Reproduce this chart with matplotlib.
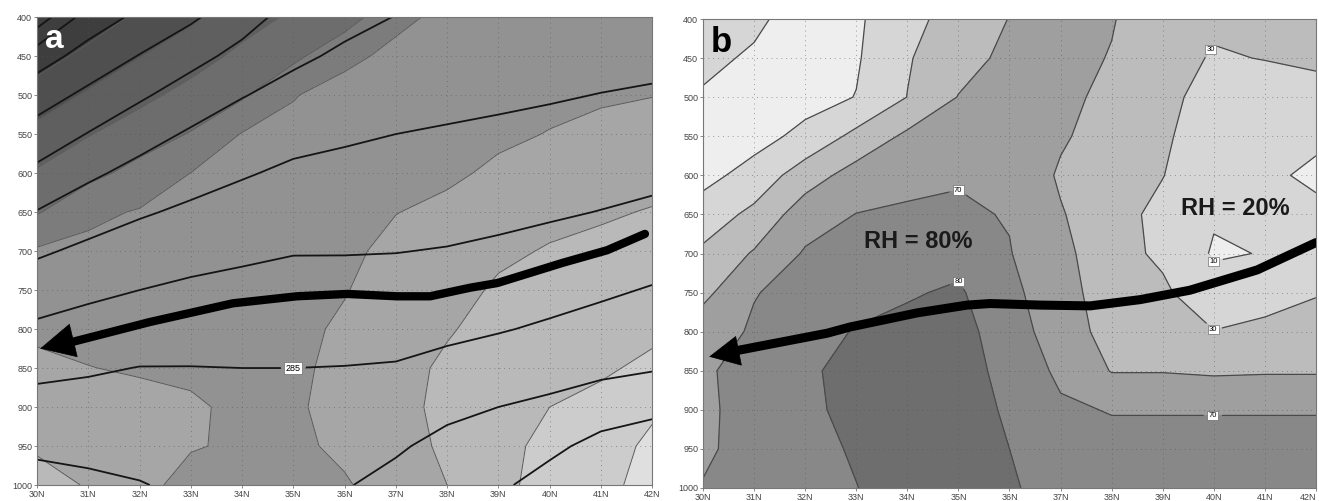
import numpy as np
import matplotlib
matplotlib.use("Agg")
import matplotlib.pyplot as plt

plt.rcParams["font.family"] = ["Liberation Sans", "DejaVu Sans"]

lats = np.arange(30, 43)
levs = np.arange(400, 1001, 50)
lat_labels = [f"{v}N" for v in lats]

# panel a: potential temperature (K); one row per latitude 30..42N, values 400 -> 1000 hPa
theta_a = [
    [328.0, 317.1, 312.3, 308.0, 303.9, 299.8, 295.7, 292.3, 289.2, 286.1, 283.4, 280.8, 278.5],
    [317.5, 313.2, 308.9, 304.8, 300.9, 297.3, 294.0, 291.0, 288.2, 285.5, 283.3, 281.2, 279.1],
    [314.0, 309.8, 305.7, 301.9, 298.5, 295.5, 292.7, 290.0, 287.4, 284.9, 283.2, 281.5, 279.8],
    [310.8, 306.5, 302.8, 299.4, 296.8, 294.2, 291.6, 289.2, 287.1, 284.9, 283.6, 282.2, 280.8],
    [306.9, 303.6, 300.2, 297.8, 295.4, 293.1, 290.8, 288.8, 286.9, 285.0, 283.7, 282.3, 281.0],
    [303.2, 300.8, 298.6, 296.4, 294.2, 292.2, 290.2, 288.5, 286.8, 285.0, 283.6, 282.2, 280.8],
    [301.2, 299.3, 297.5, 295.6, 293.8, 292.0, 290.2, 288.4, 286.7, 284.9, 283.4, 281.8, 280.3],
    [299.9, 298.3, 296.7, 295.0, 293.4, 291.8, 290.1, 288.3, 286.5, 284.7, 282.7, 280.6, 278.6],
    [299.4, 297.8, 296.2, 294.6, 293.0, 291.5, 289.8, 287.9, 286.0, 283.7, 281.2, 278.6, 276.5],
    [299.0, 297.4, 295.8, 294.2, 292.6, 291.0, 289.3, 287.3, 285.3, 282.7, 280.0, 277.9, 275.8],
    [298.6, 297.0, 295.4, 293.7, 292.1, 290.5, 288.6, 286.6, 284.4, 281.8, 279.1, 276.1, 273.1],
    [298.3, 296.6, 294.9, 293.3, 291.6, 289.9, 287.8, 285.7, 283.4, 281.1, 277.5, 273.5, 271.5],
    [297.9, 296.2, 294.5, 292.8, 291.1, 289.2, 287.0, 284.7, 282.6, 280.4, 276.0, 272.8, 271.0],
]
theta_levels = np.arange(275, 330, 5)

# panel a: shaded field (class index 0 = darkest)
shade_a = [
    [-0.3, 0.04, 0.93, 1.80, 2.61, 3.42, 4.62, 4.98, 5.34, 5.69, 6.05, 6.41, 6.77],
    [-0.08, 0.78, 1.63, 2.45, 3.21, 4.30, 4.72, 4.99, 5.25, 5.52, 5.85, 6.19, 6.45],
    [0.69, 1.47, 2.24, 3.00, 3.84, 4.57, 4.78, 4.99, 5.20, 5.41, 5.78, 5.95, 5.95],
    [1.32, 2.08, 2.82, 3.56, 4.51, 4.67, 4.84, 5.00, 5.17, 5.36, 5.60, 5.60, 5.00],
    [2.09, 2.73, 3.36, 4.55, 4.80, 4.95, 5.00, 5.05, 5.10, 5.20, 5.35, 5.30, 5.10],
    [2.65, 3.25, 4.46, 4.70, 4.85, 4.95, 5.05, 5.15, 5.25, 5.32, 5.38, 5.30, 5.10],
    [3.00, 4.30, 4.80, 4.90, 5.00, 5.10, 5.30, 5.45, 5.65, 5.75, 5.80, 5.70, 5.40],
    [4.30, 4.70, 4.90, 5.05, 5.25, 5.48, 5.75, 5.95, 6.05, 6.10, 6.20, 6.15, 6.00],
    [4.70, 4.90, 5.05, 5.20, 5.35, 5.70, 5.90, 6.10, 6.40, 6.70, 6.75, 6.65, 6.50],
    [4.85, 5.00, 5.15, 5.35, 5.65, 6.00, 6.30, 6.65, 6.90, 7.00, 7.05, 7.10, 7.15],
    [4.95, 5.10, 5.30, 5.53, 5.85, 6.20, 6.58, 6.85, 7.05, 7.25, 7.50, 7.85, 8.00],
    [5.05, 5.20, 5.40, 5.70, 6.05, 6.40, 6.70, 6.95, 7.15, 7.40, 7.70, 7.95, 8.10],
    [5.10, 5.30, 5.48, 5.82, 6.20, 6.55, 6.80, 7.05, 7.35, 7.65, 8.30, 8.75, 9.00],
]
shade_a_colors = ["#3e3e3e", "#4f4f4f", "#5f5f5f", "#6d6d6d", "#7c7c7c",
                  "#929292", "#a6a6a6", "#b9b9b9", "#cccccc", "#dfdfdf"]

# panel b: relative humidity (%); one row per latitude 30..42N, values 400 -> 1000 hPa
rh_b = [
    [16, 13.5, 8.5, 4, 4, 19, 33.7, 44.6, 62, 68.5, 67, 67, 71],
    [13, 8, 4, 3, 17.3, 34.9, 51.9, 69.3, 72, 74, 76, 77, 77],
    [3, 4, 3, 15.2, 40.4, 60.7, 72, 75, 77, 79, 78.5, 77, 76],
    [7, 8, 10.5, 35.3, 58.3, 70.4, 73.5, 77, 80.5, 82, 82, 81, 79.8],
    [24, 28.5, 30.3, 53.9, 66, 72, 75.6, 79.3, 82, 84, 85, 85, 84],
    [38, 42, 50.7, 59, 68.5, 72.5, 77.5, 81, 83, 84, 85, 85, 84],
    [50.5, 55, 59, 63, 66, 69, 70.8, 74, 75.5, 77, 78.5, 80, 82],
    [57, 55, 54, 52.5, 47.5, 51.5, 56, 60, 64, 68, 71.5, 73, 73],
    [51, 49.2, 46, 41, 39, 37, 36, 37, 40, 49, 69.5, 73, 74],
    [40, 37, 35, 33, 30.5, 25, 27, 33, 41, 49, 69.5, 73, 74],
    [33, 28.5, 23, 19, 16, 12, 8, 18, 30.5, 47, 69.5, 73, 74],
    [36, 30.5, 22, 17, 14, 12, 10.7, 20, 36, 48, 69.5, 73, 74],
    [38, 33, 24, 14, 6, 15, 20, 28.5, 40, 48, 69.5, 73, 74],
]
rh_levels = [0, 10, 30, 50, 70, 80, 100]
rh_colors = ["#eeeeee", "#d6d6d6", "#bcbcbc", "#9f9f9f", "#888888", "#6e6e6e"]
rh_label_pos = {10: [(39.98, 717)], 30: [(39.89, 437), (39.98, 798)], 50: [],
                70: [(34.99, 617), (39.98, 905)], 80: [(34.99, 731)]}

# flow arrows (lat, hPa), drawn from the tail towards the head
arrow_a_lat = [41.86, 41.12, 40.26, 38.98, 38.45, 37.67, 37.02, 36.05, 35.07, 33.82, 32.2, 30.6]
arrow_a_p = [678, 699, 715, 741, 747, 758, 758, 755, 758, 767, 791, 818]
arrow_a_tip = (30.06, 825)
arrow_b_lat = [42.0, 40.85, 39.53, 38.56, 37.58, 36.6, 35.62, 35.17, 34.19, 32.88, 32.43, 30.6]
arrow_b_p = [686, 721, 747, 759, 767, 766, 764, 766, 776, 794, 802, 825]
arrow_b_tip = (30.12, 832)


def style_axes(ax):
    ax.set_xlim(30, 42)
    ax.set_ylim(1000, 400)
    ax.set_xticks(lats)
    ax.set_xticklabels(lat_labels)
    ax.set_yticks(levs)
    ax.tick_params(labelsize=6.5, labelcolor="#444444", length=2, width=0.6,
                   color="#777777", pad=1.5)
    ax.grid(True, color="#555555", lw=0.7, ls=(0, (1, 4)), alpha=0.55)
    for s in ax.spines.values():
        s.set_color("#777777")
        s.set_linewidth(0.8)


def draw_arrow(ax, lat, p, tip, lw, scale):
    ax.plot(lat, p, color="black", lw=lw, solid_capstyle="round", zorder=6)
    ax.annotate("", xy=tip, xytext=(lat[-2], p[-2]),
                arrowprops=dict(arrowstyle="-|>,head_length=1.0,head_width=0.5",
                                mutation_scale=scale, color="black", lw=0.5,
                                shrinkA=0, shrinkB=0), zorder=7)


def box_labels(txts):
    for t in txts:
        t.set_rotation(0)
        t.set_bbox(dict(boxstyle="square,pad=0.15", fc="white", ec="#555555", lw=0.4))


def main():
    fig = plt.figure(figsize=(13.19, 5.01), dpi=100)
    ax_a = fig.add_axes([0.0281, 0.0319, 0.4663, 0.934])
    ax_b = fig.add_axes([0.533, 0.026, 0.4647, 0.936])
    X, Y = np.meshgrid(lats, levs)

    # panel a
    S = np.array(shade_a).T
    ax_a.contourf(X, Y, S, levels=np.arange(-0.5, 10.0, 1.0), colors=shade_a_colors)
    ax_a.contour(X, Y, S, levels=np.arange(0.5, 9.0, 1.0), colors="#5a5a5a", linewidths=0.7)
    T = np.array(theta_a).T
    other = [v for v in theta_levels if v != 285]
    ax_a.contour(X, Y, T, levels=other, colors="#151515", linewidths=1.3)
    cs285 = ax_a.contour(X, Y, T, levels=[285], colors="#151515", linewidths=1.3)
    box_labels(ax_a.clabel(cs285, manual=[(35.0, 850)], inline=True, fmt="%d",
                           fontsize=6.5, colors="black"))
    draw_arrow(ax_a, arrow_a_lat, arrow_a_p, arrow_a_tip, 6.0, 24)
    style_axes(ax_a)
    ax_a.text(0.013, 0.985, "a", transform=ax_a.transAxes, ha="left", va="top",
              fontsize=24, fontweight="bold", color="white", zorder=8)

    # panel b
    R = np.array(rh_b).T
    ax_b.contourf(X, Y, R, levels=rh_levels, colors=rh_colors)
    for lev in rh_levels[1:-1]:
        c = ax_b.contour(X, Y, R, levels=[lev], colors="#4a4a4a", linewidths=0.9)
        if rh_label_pos[lev]:
            box_labels(ax_b.clabel(c, manual=rh_label_pos[lev], inline=True, fmt="%d",
                                   fontsize=5.5, colors="black"))
    draw_arrow(ax_b, arrow_b_lat, arrow_b_p, arrow_b_tip, 6.5, 21)
    ax_b.text(34.21, 684, "RH = 80%", ha="center", va="center", fontsize=17,
              fontweight="bold", color="#1a1a1a", zorder=8)
    ax_b.text(40.43, 642, "RH = 20%", ha="center", va="center", fontsize=17,
              fontweight="bold", color="#1a1a1a", zorder=8)
    style_axes(ax_b)
    ax_b.get_xticklabels()[-1].set_ha("right")
    ax_b.text(0.013, 0.985, "b", transform=ax_b.transAxes, ha="left", va="top",
              fontsize=25, fontweight="bold", color="black", zorder=8)

    fig.savefig("out.png", dpi=100)
    plt.close(fig)


if __name__ == "__main__":
    main()
